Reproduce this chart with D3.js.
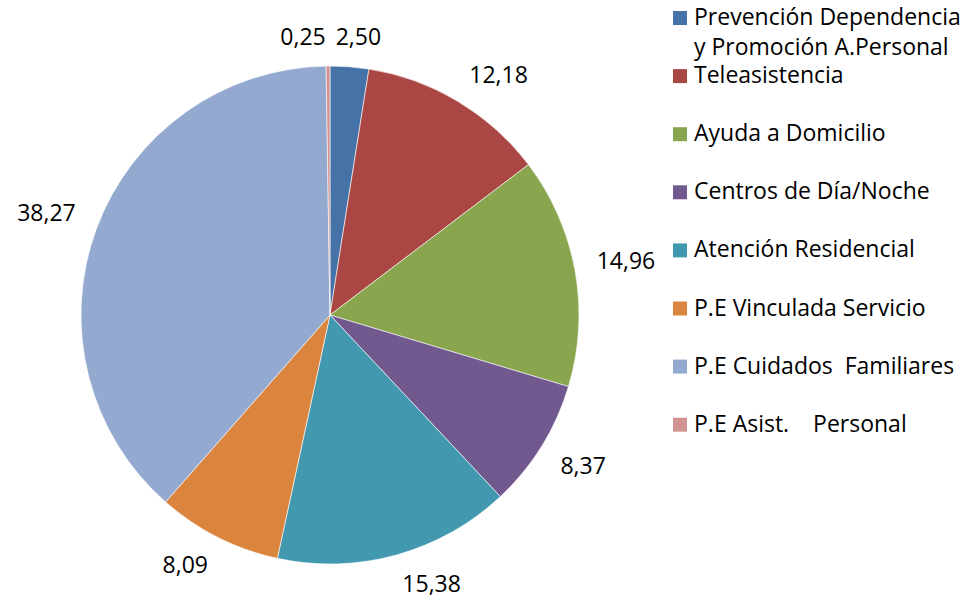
<!DOCTYPE html>
<html>
<head>
<meta charset="utf-8">
<script src="https://cdn.jsdelivr.net/npm/d3@7"></script>
<style>
  body { margin: 0; background: #fff; }
  svg text { font-family: "Open Sans", "Liberation Sans", sans-serif; fill: #000; white-space: pre; }
</style>
</head>
<body>
<svg id="chart" width="978" height="603"></svg>
<script>
// categories and values (percent), clockwise from 12 o'clock
const categories = [
  'Prevención Dependencia\ny Promoción A.Personal',
  'Teleasistencia',
  'Ayuda a Domicilio',
  'Centros de Día/Noche',
  'Atención Residencial',
  'P.E Vinculada Servicio',
  'P.E Cuidados  Familiares',
  'P.E Asist.    Personal'
];
const values = [2.50, 12.18, 14.96, 8.37, 15.38, 8.09, 38.27, 0.25];
const colors = ['#4572A7', '#AA4643', '#89A54E', '#71588F', '#4198AF', '#DB843D', '#93A9CF', '#D19392'];

const cx = 330, cy = 315, radius = 249;
const label_gap = 22;
const font_size = '23px';
const fmt = (v) => v.toFixed(2).replace('.', ',');

const svg = d3.select('#chart');

const pie = d3.pie().sort(null).value((d) => d);
const arcs = pie(values);
const arc = d3.arc().innerRadius(0).outerRadius(radius);

const g = svg.append('g').attr('transform', 'translate(' + cx + ',' + cy + ')');

g.selectAll('.slice')
  .data(arcs)
  .enter()
  .append('path')
    .attr('class', 'slice')
    .attr('d', arc)
    .attr('fill', (d, i) => colors[i])
    .attr('stroke', '#fff')
    .attr('stroke-width', 0.6);

// data labels, outside end: nearest corner of the label sits on the radial line
const labels = g.selectAll('.data_label')
  .data(arcs)
  .enter()
  .append('text')
    .attr('class', 'data_label')
    .attr('text-anchor', 'middle')
    .style('font-size', font_size)
    .text((d) => fmt(d.data));

const clamp1 = (v) => Math.max(-1, Math.min(1, v * 4));
let boxes = [];
labels.each(function(d) {
  const bb = this.getBBox();
  const a = (d.startAngle + d.endAngle) / 2;
  const s = Math.sin(a), c = -Math.cos(a);
  const hw = bb.width / 2, hh = 8;
  const x = (radius + label_gap) * s + hw * clamp1(s);
  const y = (radius + label_gap) * c + hh * clamp1(c);
  boxes.push({node: this, x: x, y: y, w: bb.width});
});

// move a label left if it runs into its neighbour (small slices at the top)
for (let i = 0; i < boxes.length; i++) {
  for (let j = 0; j < boxes.length; j++) {
    if (i == j) continue;
    const a = boxes[i], b = boxes[j];
    const need = (a.w + b.w) / 2 + 10;
    if (Math.abs(a.y - b.y) < 22 && Math.abs(a.x - b.x) < need && a.x < b.x) {
      a.x = b.x - need;
      const yy = Math.max(a.y, b.y);
      a.y = yy; b.y = yy;
    }
  }
}
boxes.forEach((b) => {
  d3.select(b.node).attr('x', b.x).attr('y', b.y + 8);
});

// legend
const leg = svg.append('g').attr('class', 'legend');
const leg_x = 673, leg_y0 = 25, leg_step = 58.1;
categories.forEach((name, i) => {
  const by = leg_y0 + leg_step * i;
  leg.append('rect')
    .attr('x', leg_x)
    .attr('y', by - 14)
    .attr('width', 14)
    .attr('height', 14)
    .attr('fill', colors[i]);
  const t = leg.append('text')
    .attr('x', leg_x + 21)
    .attr('y', by)
    .style('font-size', font_size);
  name.split('\n').forEach((line, k) => {
    t.append('tspan')
      .attr('x', leg_x + 21)
      .attr('dy', k == 0 ? 0 : 30)
      .text(line);
  });
});
</script>
</body>
</html>
